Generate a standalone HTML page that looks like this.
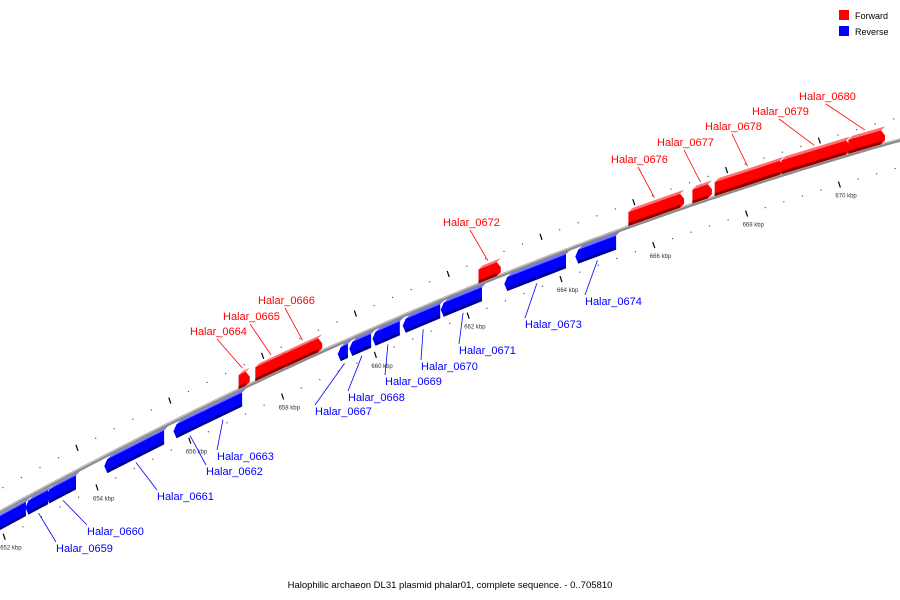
<!DOCTYPE html>
<html><head><meta charset="utf-8"><style>
html,body{margin:0;padding:0;background:#fff;}
svg{display:block;font-family:"Liberation Sans","DejaVu Sans",sans-serif;}
</style></head><body>
<svg id="chart" width="900" height="600" viewBox="0 0 900 600">
  <g id="ticks"></g>
  <path id="backbone" fill="none" stroke="#8a8a8a" stroke-width="3.5"/>
  <path id="backbone-hl" fill="none" stroke="#c8c8c8" stroke-width="1"/>
  <g id="genes"></g>
  <g id="labels"></g>
  <g>
    <rect x="839" y="10" width="10" height="10" fill="#f00"/>
    <text x="855" y="19" font-size="9" fill="#000">Forward</text>
    <rect x="839" y="26" width="10" height="10" fill="#00f"/>
    <text x="855" y="35" font-size="9" fill="#000">Reverse</text>
  </g>
  <text x="450" y="588" font-size="9.5" text-anchor="middle" fill="#000">Halophilic archaeon DL31 plasmid phalar01, complete sequence. - 0..705810</text>
</svg>
<script>
// gene data (kbp)
const geneNames  = ["Halar_0658","Halar_0659","Halar_0660","Halar_0661","Halar_0662","Halar_0663","Halar_0664","Halar_0665","Halar_0666","Halar_0667","Halar_0668","Halar_0669","Halar_0670","Halar_0671","Halar_0672","Halar_0673","Halar_0674","Halar_0676","Halar_0677","Halar_0678","Halar_0679","Halar_0680"];
const geneStarts = [651.80,652.49,652.94,654.19,655.68,656.26,657.02,657.38,658.05,659.22,659.47,659.97,660.62,661.44,662.19,662.81,664.34,665.42,666.80,667.28,668.72,670.16];
const geneEnds   = [652.51,652.99,653.59,655.49,656.33,657.17,657.25,658.12,658.81,659.45,659.95,660.57,661.44,662.34,662.66,664.15,665.23,666.61,667.21,668.76,670.19,670.94];
const geneStrand = [-1,-1,-1,-1,-1,-1,1,1,1,-1,-1,-1,-1,-1,1,-1,-1,1,1,1,1,1];
const tickKbp = [652,654,656,658,660,662,664,666,668,670];
const tickLabels = ["652 kbp","654 kbp","656 kbp","658 kbp","660 kbp","662 kbp","664 kbp","666 kbp","668 kbp","670 kbp"];
// label layout (text left x, baseline y) — layout only
const labelLayout = [null,[56,552],[87,535],[157,500],[206,475],[217,460],[190,335],[223,320],[258,304],[315,415],[348,401],[385,385],[421,370],[459,354],[443,226],[525,328],[585,305],[611,163],[657,146],[705,130],[752,115],[799,100]];

const NS="http://www.w3.org/2000/svg";
function xOf(k){return 97+(k-654)*46.4;}
function yOf(x){return 512-0.546*x+1.474e-4*x*x;}
function mk(tag,attrs,parent){const e=document.createElementNS(NS,tag);for(const k in attrs)e.setAttribute(k,attrs[k]);parent.appendChild(e);return e;}

let d="";for(let x=-5;x<=905;x+=5){d+=(x===-5?"M":"L")+x+","+yOf(x).toFixed(1);}
document.getElementById("backbone").setAttribute("d",d);
let d2="";for(let x=-5;x<=905;x+=5){d2+=(x===-5?"M":"L")+x+","+(yOf(x)-1).toFixed(1);}
document.getElementById("backbone-hl").setAttribute("d",d2);

const tg=document.getElementById("ticks");
for(let k=651.2;k<=672;k+=0.4){
  const x=xOf(k);const major=Math.abs((k/2)-Math.round(k/2))<0.01;
  const yl=yOf(x)+27;
  const xu=x-20, yu=yOf(xu)-23;
  if(major){
    const a=mk("line",{x1:x-1,y1:yl-3,x2:x+1,y2:yl+3,stroke:"#000","stroke-width":1.2},tg);
    
    
    const b=mk("line",{x1:xu-1,y1:yu-3,x2:xu+1,y2:yu+3,stroke:"#000","stroke-width":1.2},tg);
    
    
  } else {
    const a=mk("rect",{x:x-0.5,y:yl-0.5,width:1.2,height:1.2,fill:"#555"},tg);
    
    
    const b=mk("rect",{x:xu-0.5,y:yu-0.5,width:1.2,height:1.2,fill:"#555"},tg);
    
    
  }
}
tickKbp.forEach((k,i)=>{
  const x=xOf(k);
  const t=mk("text",{x:x-4,y:yOf(x)+40,"font-size":6,fill:"#333"},tg);
  
  
  t.textContent=tickLabels[i];
});

const gg=document.getElementById("genes");
function pts(a){return a.map(p=>p[0].toFixed(1)+","+p[1].toFixed(1)).join(" ");}
geneNames.forEach((n,i)=>{
  const x1=xOf(geneStarts[i])+1.5,x2=xOf(geneEnds[i])-2,s=geneStrand[i];
  const y1=yOf(x1),y2=yOf(x2);
  const off1=s>0?-1:4, off2=s>0?-15:18;
  const b1=y1+(s>0?off1:off2), b2=y2+(s>0?off1:off2);
  const t1=y1+(s>0?off2:off1), t2=y2+(s>0?off2:off1);
  const main=s>0?"#f00":"#00f", light=s>0?"#ff7070":"#7070ff", dark=s>0?"#8a0000":"#00008a";
  const g=mk("g",{},gg);
  
  
  mk("polygon",{points:pts([[x1,t1],[x2,t2],[x2+4,t2-4],[x1+4,t1-4]]),fill:light},g);
  let front;
  if(s>0) front=[[x1,t1],[x2,t2],[x2+4,(t2+b2)/2-2],[x2+4,b2-4],[x2,b2],[x1,b1]];
  else front=[[x1,t1],[x2,t2],[x2,b2],[x1,b1],[x1-3,(t1+b1)/2]];
  mk("polygon",{points:pts(front),fill:main},g);
  mk("polygon",{points:pts([[x1,b1-3],[x2,b2-3],[x2,b2],[x1,b1]]),fill:dark},g);
});

const lg=document.getElementById("labels");
geneNames.forEach((n,i)=>{
  const L=labelLayout[i]; if(!L) return;
  const s=geneStrand[i], col=s>0?"#f00":"#00f";
  const xm=(xOf(geneStarts[i])+xOf(geneEnds[i]))/2, ym=yOf(xm)+(s>0?-20:22);
  const lx=L[0]+(s>0?27:0), ly=s>0?L[1]+4:L[1]-10;
  const ln=mk("line",{x1:xm,y1:ym,x2:lx,y2:ly,stroke:col,"stroke-width":0.8},lg);
  
  
  const t=mk("text",{x:L[0],y:L[1],"font-size":11,fill:col},lg);
  
  
  t.textContent=n;
});
</script>
</body></html>
